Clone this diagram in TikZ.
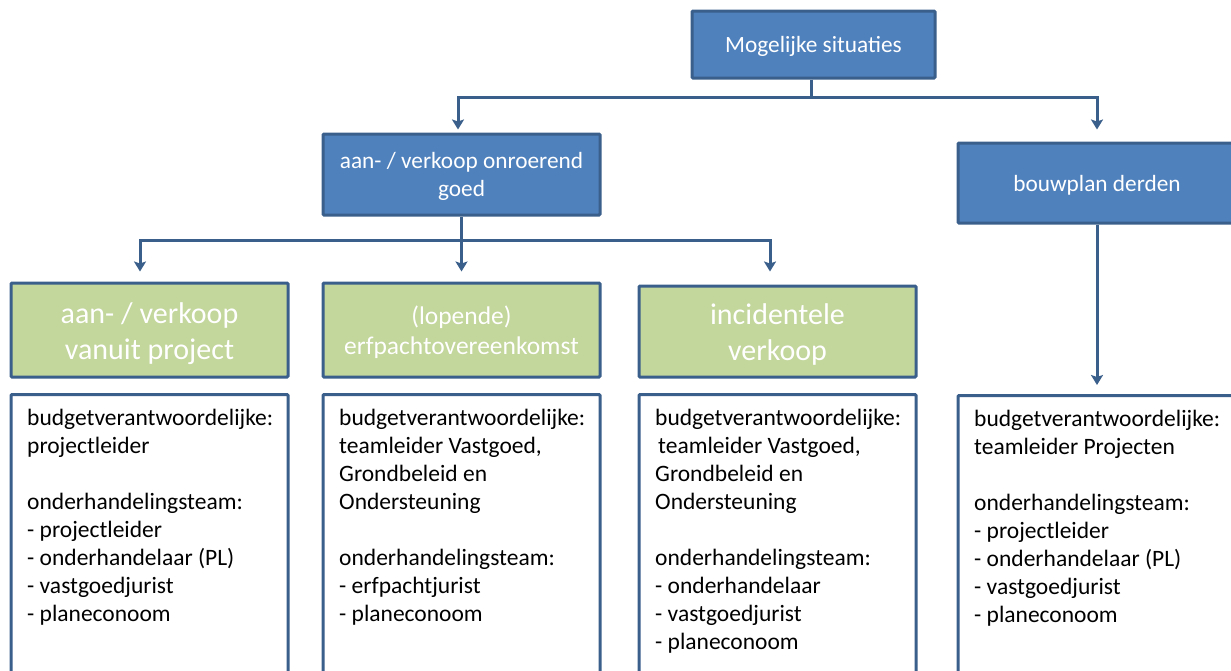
\documentclass[tikz,border=0pt]{standalone}
\usepackage{fontspec}
\setmainfont{Carlito}
\usetikzlibrary{arrows.meta,calc}
\definecolor{bfill}{HTML}{4F81BD}
\definecolor{bline}{HTML}{3A5F8B}
\definecolor{gfill}{HTML}{C3D69B}
\tikzset{
  bluebox/.style={draw=bline, fill=bfill, line width=3pt, rounded corners=1pt, inner sep=0pt},
  greenbox/.style={draw=bline, fill=gfill, line width=3pt, rounded corners=1pt, inner sep=0pt},
  whitebox/.style={draw=bline, fill=white, line width=3pt, rounded corners=1pt, inner sep=0pt},
  btext/.style={text=white, align=center, inner sep=0pt, font=\fontsize{23.3}{28}\selectfont},
  gtext/.style={text=white, align=center, inner sep=0pt},
  wtext/.style={anchor=north west, align=left, inner sep=0pt, font=\fontsize{23.5}{28}\selectfont, text=black},
  conn/.style={draw=bline, line width=3pt},
  arr/.style={conn, -{Stealth[length=10pt,width=12pt,inset=2pt]}},
}
\begin{document}
\begin{tikzpicture}[x=1pt,y=-1pt]
\useasboundingbox (0,0) rectangle (1231,670);
\clip (0,0) rectangle (1231,670);
% top level
\node[bluebox, minimum width=243pt, minimum height=67pt] (top) at (813.5,44.5) {};
\node[btext] (topt) at ($(top.center)+(0,2)$) {Mogelijke situaties};
\node[bluebox, minimum width=277pt, minimum height=81pt] (aanv) at (461.5,174.5) {};
\node[btext] (aanvt) at ($(aanv.center)+(0,2)$) {aan- / verkoop onroerend\\goed};
\node[bluebox, minimum width=278pt, minimum height=80pt] (bouw) at (1097,183) {};
\node[btext] (bouwt) at ($(bouw.center)+(0,2)$) {bouwplan derden};
% green boxes
\node[greenbox, minimum width=277pt, minimum height=94pt] (g1) at (149.5,330) {};
\node[gtext, font=\fontsize{30}{36}\selectfont] (g1t) at ($(g1.center)+(0,3.5)$) {aan- / verkoop\\vanuit project};
\node[greenbox, minimum width=277pt, minimum height=94pt] (g2) at (461.5,330) {};
\node[gtext, font=\fontsize{25.5}{30}\selectfont] (g2t) at ($(g2.center)+(0,2.5)$) {(lopende)\\erfpachtovereenkomst};
\node[greenbox, minimum width=277pt, minimum height=91pt] (g3) at (777.5,331.5) {};
\node[gtext, font=\fontsize{30}{36}\selectfont] (g3t) at ($(g3.center)+(0,3)$) {incidentele\\verkoop};
% white boxes
\node[whitebox, minimum width=277pt, minimum height=320pt, anchor=north] (w1) at (149.5,393) {};
\node[whitebox, minimum width=277pt, minimum height=320pt, anchor=north] (w2) at (461.5,393) {};
\node[whitebox, minimum width=277pt, minimum height=320pt, anchor=north] (w3) at (777.5,393) {};
\node[whitebox, minimum width=278pt, minimum height=320pt, anchor=north] (w4) at (1097,394) {};
\node[wtext] (t1) at ($(w1.north west)+(17.5,15.5)$) {budgetverantwoordelijke:\\projectleider\\~\\onderhandelingsteam:\\- projectleider\\- onderhandelaar (PL)\\- vastgoedjurist\\- planeconoom};
\node[wtext] (t2) at ($(w2.north west)+(17.5,15.5)$) {budgetverantwoordelijke:\\teamleider Vastgoed,\\Grondbeleid en\\Ondersteuning\\~\\onderhandelingsteam:\\- erfpachtjurist\\- planeconoom};
\node[wtext] (t3) at ($(w3.north west)+(17.5,15.5)$) {budgetverantwoordelijke:\\\hspace*{3pt}teamleider Vastgoed,\\Grondbeleid en\\Ondersteuning\\~\\onderhandelingsteam:\\- onderhandelaar\\- vastgoedjurist\\- planeconoom};
\node[wtext] (t4) at ($(w4.north west)+(17.5,15.5)$) {budgetverantwoordelijke:\\teamleider Projecten\\~\\onderhandelingsteam:\\- projectleider\\- onderhandelaar (PL)\\- vastgoedjurist\\- planeconoom};
% connectors
\coordinate (j1) at (811,97);
\coordinate (j2) at (461.5,240);
\draw[conn] ([xshift=-2.5pt]top.south) -- (j1);
\draw[arr, shorten >=3pt] (j1) -| ([xshift=-3.5pt]aanv.north);
\draw[arr, shorten >=12pt] (j1) -| (bouw.north);
\draw[conn] (aanv.south) -- (j2);
\draw[arr, shorten >=10pt] (j2) -| ([xshift=-9.5pt]g1.north);
\draw[arr, shorten >=10pt] (j2) -- (g2.north);
\draw[arr, shorten >=13pt] (j2) -| ([xshift=-7.5pt]g3.north);
\draw[arr, shorten >=9pt] (bouw.south) -- (w4.north);
\end{tikzpicture}
\end{document}
